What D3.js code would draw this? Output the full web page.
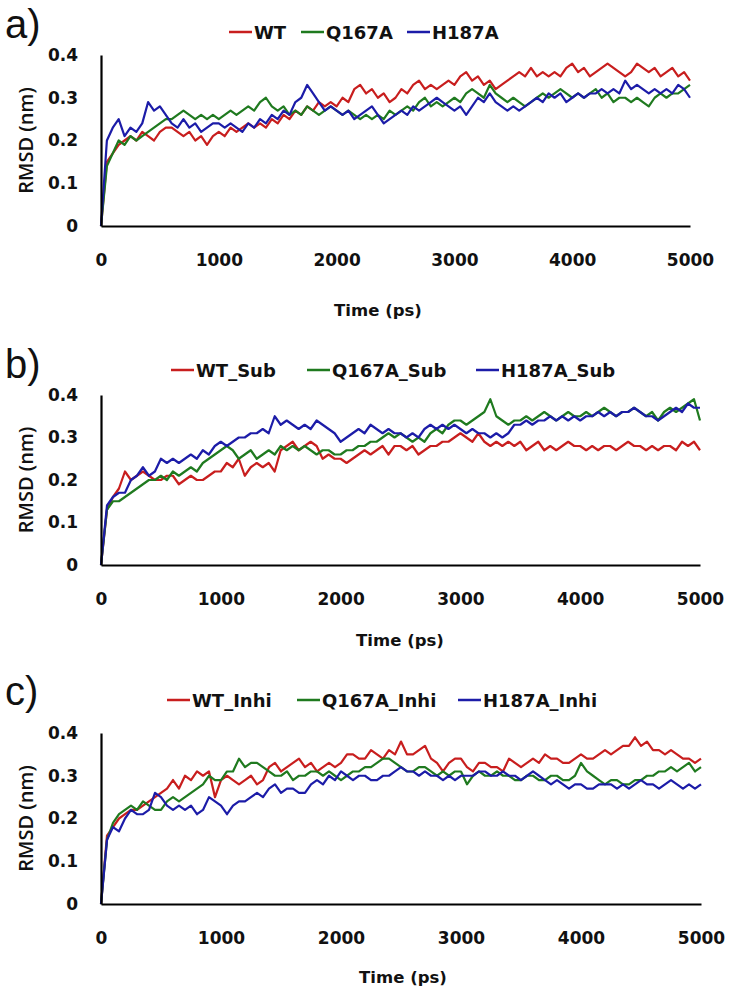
<!DOCTYPE html>
<html>
<head>
<meta charset="utf-8">
<script src="https://cdn.jsdelivr.net/npm/d3@7/dist/d3.min.js"></script>
<style>
  html, body { margin: 0; padding: 0; background: #fff; }
  svg { display: block; }
</style>
</head>
<body>
<svg id="chart" width="732" height="996"></svg>
<script>
// ---------------- DATA ----------------
const time = d3.range(0, 5001, 50); // ps
const xTicks = [0, 1000, 2000, 3000, 4000, 5000];
const yTicks = [0, 0.1, 0.2, 0.3, 0.4];
const yTickLabels = ["0", "0.1", "0.2", "0.3", "0.4"];
const panelLabels = ["a)", "b)", "c)"];
const xTitle = "Time (ps)";
const yTitle = "RMSD (nm)";

const namesA = ["WT", "Q167A", "H187A"];
const namesB = ["WT_Sub", "Q167A_Sub", "H187A_Sub"];
const namesC = ["WT_Inhi", "Q167A_Inhi", "H187A_Inhi"];

const WT = [0,0.15,0.17,0.19,0.20,0.21,0.20,0.22,0.21,0.20,
 0.22,0.23,0.23,0.22,0.21,0.22,0.20,0.21,0.19,0.21,
 0.22,0.21,0.23,0.22,0.23,0.24,0.23,0.24,0.23,0.25,
 0.24,0.26,0.25,0.27,0.26,0.28,0.27,0.29,0.28,0.29,
 0.28,0.30,0.29,0.32,0.33,0.31,0.32,0.30,0.31,0.29,
 0.30,0.32,0.31,0.33,0.34,0.32,0.33,0.32,0.33,0.34,
 0.33,0.35,0.36,0.34,0.35,0.33,0.34,0.32,0.33,0.34,
 0.35,0.36,0.35,0.37,0.35,0.36,0.35,0.36,0.35,0.37,
 0.38,0.36,0.37,0.35,0.36,0.37,0.38,0.37,0.36,0.35,
 0.36,0.38,0.37,0.36,0.37,0.35,0.36,0.37,0.35,0.36,
 0.34];
const Q167A = [0,0.14,0.17,0.20,0.19,0.21,0.20,0.21,0.22,0.23,
 0.24,0.25,0.25,0.26,0.27,0.26,0.25,0.26,0.25,0.26,
 0.25,0.26,0.27,0.26,0.27,0.28,0.27,0.29,0.30,0.28,
 0.27,0.28,0.26,0.27,0.26,0.28,0.27,0.26,0.27,0.28,
 0.27,0.26,0.27,0.26,0.25,0.26,0.25,0.26,0.25,0.27,
 0.26,0.27,0.28,0.27,0.29,0.30,0.28,0.29,0.28,0.29,
 0.30,0.29,0.31,0.32,0.31,0.30,0.33,0.31,0.30,0.29,
 0.30,0.29,0.28,0.29,0.30,0.31,0.30,0.31,0.32,0.31,
 0.30,0.31,0.30,0.31,0.32,0.30,0.31,0.29,0.30,0.30,
 0.29,0.30,0.29,0.28,0.30,0.31,0.30,0.31,0.31,0.32,
 0.33];
const H187A = [0,0.20,0.23,0.25,0.21,0.23,0.22,0.24,0.29,0.27,
 0.28,0.26,0.24,0.23,0.25,0.23,0.24,0.22,0.23,0.24,
 0.24,0.23,0.24,0.23,0.22,0.24,0.23,0.25,0.24,0.26,
 0.25,0.27,0.26,0.29,0.30,0.33,0.31,0.29,0.27,0.28,
 0.27,0.26,0.27,0.25,0.26,0.27,0.28,0.26,0.24,0.25,
 0.26,0.27,0.26,0.28,0.27,0.28,0.29,0.30,0.29,0.28,
 0.27,0.28,0.26,0.28,0.30,0.29,0.31,0.29,0.28,0.27,
 0.28,0.27,0.28,0.29,0.30,0.29,0.31,0.30,0.31,0.29,
 0.30,0.31,0.30,0.31,0.31,0.32,0.31,0.32,0.31,0.34,
 0.32,0.33,0.32,0.31,0.32,0.31,0.32,0.31,0.33,0.32,
 0.30];

const WT_Sub = [0,0.13,0.16,0.18,0.22,0.20,0.21,0.22,0.21,0.20,
 0.20,0.21,0.21,0.19,0.20,0.21,0.20,0.20,0.21,0.22,
 0.22,0.24,0.23,0.25,0.21,0.23,0.24,0.23,0.24,0.22,
 0.27,0.28,0.29,0.27,0.28,0.29,0.28,0.25,0.26,0.25,
 0.25,0.24,0.25,0.26,0.27,0.26,0.27,0.28,0.26,0.28,
 0.28,0.27,0.28,0.26,0.27,0.28,0.28,0.29,0.29,0.30,
 0.31,0.30,0.29,0.31,0.29,0.28,0.29,0.28,0.29,0.28,
 0.29,0.27,0.28,0.29,0.27,0.28,0.27,0.28,0.29,0.28,
 0.28,0.27,0.28,0.27,0.28,0.28,0.27,0.28,0.29,0.28,
 0.28,0.27,0.28,0.27,0.28,0.28,0.27,0.29,0.28,0.29,
 0.27];
const Q167A_Sub = [0,0.13,0.15,0.15,0.16,0.17,0.18,0.19,0.20,0.20,
 0.21,0.20,0.22,0.21,0.22,0.23,0.22,0.24,0.25,0.26,
 0.27,0.28,0.27,0.25,0.26,0.27,0.25,0.26,0.27,0.26,
 0.28,0.27,0.28,0.27,0.28,0.27,0.26,0.27,0.27,0.26,
 0.26,0.27,0.27,0.28,0.28,0.29,0.29,0.30,0.31,0.30,
 0.31,0.30,0.29,0.30,0.29,0.31,0.32,0.31,0.33,0.34,
 0.34,0.33,0.34,0.35,0.36,0.39,0.35,0.34,0.33,0.34,
 0.34,0.35,0.34,0.35,0.36,0.35,0.34,0.35,0.36,0.35,
 0.35,0.36,0.35,0.36,0.37,0.36,0.35,0.36,0.36,0.37,
 0.36,0.35,0.36,0.34,0.36,0.37,0.36,0.37,0.38,0.39,
 0.34];
const H187A_Sub = [0,0.14,0.16,0.17,0.17,0.20,0.21,0.23,0.21,0.22,
 0.25,0.24,0.25,0.24,0.25,0.26,0.25,0.27,0.26,0.28,
 0.29,0.28,0.29,0.30,0.30,0.31,0.31,0.32,0.31,0.35,
 0.33,0.34,0.33,0.32,0.33,0.32,0.34,0.33,0.32,0.31,
 0.29,0.30,0.31,0.32,0.31,0.33,0.32,0.31,0.32,0.31,
 0.31,0.30,0.31,0.30,0.32,0.33,0.32,0.33,0.32,0.33,
 0.32,0.31,0.32,0.31,0.31,0.30,0.31,0.30,0.31,0.33,
 0.33,0.34,0.33,0.34,0.34,0.35,0.34,0.35,0.34,0.35,
 0.34,0.35,0.35,0.36,0.35,0.36,0.35,0.36,0.36,0.37,
 0.36,0.35,0.35,0.34,0.35,0.36,0.37,0.36,0.38,0.37,
 0.37];

const WT_Inhi = [0,0.16,0.18,0.20,0.21,0.22,0.22,0.23,0.24,0.25,
 0.26,0.27,0.29,0.27,0.30,0.29,0.31,0.30,0.31,0.25,
 0.29,0.30,0.29,0.28,0.29,0.30,0.28,0.29,0.32,0.33,
 0.31,0.32,0.33,0.34,0.32,0.33,0.31,0.32,0.33,0.32,
 0.33,0.35,0.35,0.34,0.34,0.36,0.35,0.34,0.36,0.35,
 0.38,0.35,0.35,0.36,0.37,0.34,0.33,0.31,0.33,0.34,
 0.34,0.32,0.31,0.33,0.33,0.32,0.32,0.31,0.34,0.33,
 0.32,0.33,0.34,0.33,0.35,0.34,0.34,0.33,0.33,0.34,
 0.35,0.34,0.34,0.35,0.36,0.35,0.36,0.37,0.37,0.39,
 0.37,0.38,0.36,0.36,0.35,0.36,0.35,0.34,0.34,0.33,
 0.34];
const Q167A_Inhi = [0,0.15,0.19,0.21,0.22,0.23,0.22,0.24,0.23,0.22,
 0.22,0.24,0.25,0.24,0.25,0.26,0.27,0.28,0.30,0.29,
 0.29,0.31,0.31,0.34,0.32,0.33,0.33,0.32,0.31,0.30,
 0.30,0.31,0.29,0.30,0.30,0.31,0.31,0.30,0.31,0.30,
 0.29,0.30,0.31,0.31,0.32,0.32,0.33,0.34,0.34,0.33,
 0.32,0.31,0.31,0.32,0.32,0.31,0.30,0.31,0.30,0.31,
 0.31,0.28,0.30,0.31,0.30,0.30,0.31,0.30,0.30,0.29,
 0.29,0.30,0.30,0.29,0.29,0.30,0.30,0.29,0.29,0.30,
 0.33,0.31,0.30,0.29,0.28,0.29,0.29,0.28,0.28,0.29,
 0.29,0.30,0.30,0.31,0.31,0.32,0.31,0.32,0.33,0.31,
 0.32];
const H187A_Inhi = [0,0.15,0.18,0.17,0.20,0.22,0.21,0.21,0.22,0.26,
 0.25,0.23,0.22,0.23,0.22,0.23,0.21,0.22,0.25,0.24,
 0.23,0.21,0.23,0.24,0.24,0.25,0.26,0.25,0.27,0.28,
 0.26,0.27,0.27,0.26,0.26,0.28,0.29,0.28,0.30,0.29,
 0.31,0.30,0.29,0.30,0.30,0.29,0.29,0.30,0.30,0.31,
 0.32,0.31,0.31,0.30,0.31,0.30,0.30,0.29,0.30,0.29,
 0.30,0.30,0.30,0.31,0.31,0.30,0.30,0.31,0.30,0.30,
 0.29,0.30,0.31,0.30,0.29,0.28,0.29,0.28,0.27,0.28,
 0.28,0.27,0.27,0.28,0.28,0.28,0.27,0.28,0.27,0.28,
 0.29,0.28,0.28,0.27,0.28,0.29,0.28,0.27,0.28,0.27,
 0.28];

// ---------------- STYLE / LAYOUT ----------------
const colors = ["#c81e1e", "#1f7a1f", "#1c1ca8"];
const panels = [
  { label: panelLabels[0], names: namesA, series: [WT, Q167A, H187A],
    x0: 101, x1: 690, yTop: 55, yBase: 226, legendY: 32, legendX: [229, 301, 407],
    labelY: 38, titleX: 378, titleY: 310 },
  { label: panelLabels[1], names: namesB, series: [WT_Sub, Q167A_Sub, H187A_Sub],
    x0: 101, x1: 700, yTop: 395, yBase: 565, legendY: 370, legendX: [171, 307, 476],
    labelY: 378, titleX: 400, titleY: 640 },
  { label: panelLabels[2], names: namesC, series: [WT_Inhi, Q167A_Inhi, H187A_Inhi],
    x0: 101, x1: 701, yTop: 733, yBase: 904, legendY: 700, legendX: [167, 297, 458],
    labelY: 705, titleX: 403, titleY: 977 }
];

const svg = d3.select("#chart");
const boldFont = "'DejaVu Sans', sans-serif";

panels.forEach(p => {
  const g = svg.append("g");
  const x = d3.scaleLinear().domain([0, 5000]).range([p.x0, p.x1]);
  const y = d3.scaleLinear().domain([0, 0.4]).range([p.yBase, p.yTop]);

  // series lines
  const line = d3.line().x((d, i) => x(time[i])).y(d => y(d));
  p.series.forEach((s, k) => {
    g.append("path")
      .datum(s)
      .attr("fill", "none")
      .attr("stroke", colors[k])
      .attr("stroke-width", 2.2)
      .attr("stroke-linejoin", "round")
      .attr("d", line);
  });

  // axes (lines only, Excel style)
  const xAxis = d3.axisBottom(x).tickValues(xTicks).tickSize(0).tickPadding(28)
    .tickFormat(d3.format("d"));
  const gx = g.append("g").attr("transform", `translate(0,${p.yBase})`).call(xAxis);
  gx.select(".domain").attr("stroke", "#000").attr("stroke-width", 2.2);
  gx.selectAll("text").attr("font-family", boldFont).attr("font-weight", "bold")
    .attr("font-size", 17).attr("fill", "#111");

  const yAxis = d3.axisLeft(y).tickValues(yTicks).tickSize(0).tickPadding(23)
    .tickFormat((d, i) => yTickLabels[i]);
  const gy = g.append("g").attr("transform", `translate(${p.x0},0)`).call(yAxis);
  gy.select(".domain").attr("stroke", "#000").attr("stroke-width", 2.2);
  gy.selectAll("text").attr("font-family", boldFont).attr("font-weight", "bold")
    .attr("font-size", 17).attr("fill", "#111");

  // axis titles
  g.append("text")
    .attr("x", p.titleX).attr("y", p.titleY)
    .attr("text-anchor", "middle").attr("dominant-baseline", "central")
    .attr("font-family", boldFont).attr("font-weight", "bold").attr("font-size", 16.5)
    .attr("fill", "#111")
    .text(xTitle);
  g.append("text")
    .attr("transform", `translate(25,${(p.yTop + p.yBase) / 2}) rotate(-90)`)
    .attr("text-anchor", "middle").attr("dominant-baseline", "central")
    .attr("font-family", "'Open Sans', sans-serif").attr("font-weight", 600)
    .attr("font-size", 20)
    .attr("fill", "#111")
    .text(yTitle);

  // panel label
  g.append("text")
    .attr("x", 5).attr("y", p.labelY)
    .attr("font-family", "'Liberation Sans', Arial, sans-serif").attr("font-size", 40)
    .attr("fill", "#111")
    .text(p.label);

  // legend
  p.names.forEach((n, k) => {
    const lx = p.legendX[k];
    g.append("line")
      .attr("x1", lx).attr("x2", lx + 23)
      .attr("y1", p.legendY).attr("y2", p.legendY)
      .attr("stroke", colors[k]).attr("stroke-width", 2.5);
    g.append("text")
      .attr("x", lx + 25).attr("y", p.legendY)
      .attr("dominant-baseline", "central")
      .attr("font-family", boldFont).attr("font-weight", "bold").attr("font-size", 18)
      .attr("fill", "#111")
      .text(n);
  });
});
</script>
</body>
</html>
